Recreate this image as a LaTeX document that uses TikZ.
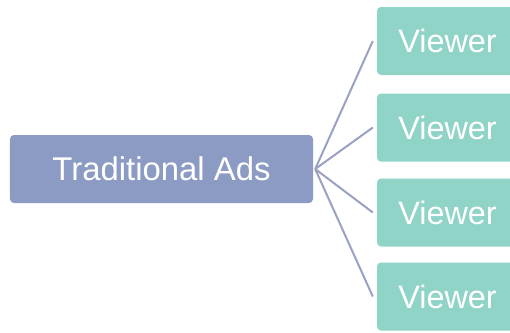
\documentclass[tikz,border=0pt]{standalone}
\usepackage{fontspec}
\setmainfont{Liberation Sans}
\definecolor{adsblue}{HTML}{8C9BC4}
\definecolor{viewteal}{HTML}{8FD4C7}
\definecolor{linkcol}{HTML}{9AA1C2}
\begin{document}
\begin{tikzpicture}[x=1bp,y=-1bp,
  adsbox/.style={fill=adsblue, rounded corners=4bp, minimum width=303bp, minimum height=68bp, inner sep=0pt, text=white, font=\fontsize{33}{36}\selectfont},
  viewbox/.style={fill=viewteal, rounded corners=4bp, minimum width=141bp, minimum height=68bp, inner sep=0pt, text=white, font=\fontsize{32.5}{36}\selectfont},
  link/.style={draw=linkcol, line width=2bp}]
\useasboundingbox (0,0) rectangle (510,332);
\clip (0,0) rectangle (510,332);
\fill[white] (0,0) rectangle (510,332);
\node[adsbox] (ads) at (161.5,169) {Traditional Ads};
\node[viewbox] (v1) at (447.5,41) {Viewer};
\node[viewbox] (v2) at (447.5,127.5) {Viewer};
\node[viewbox] (v3) at (447.5,212.5) {Viewer};
\node[viewbox] (v4) at (447.5,296.5) {Viewer};
\foreach \v in {v1,v2,v3,v4}
  \draw[link] ([xshift=2bp]ads.east) -- ([xshift=-4bp]\v.west);
\end{tikzpicture}
\end{document}
